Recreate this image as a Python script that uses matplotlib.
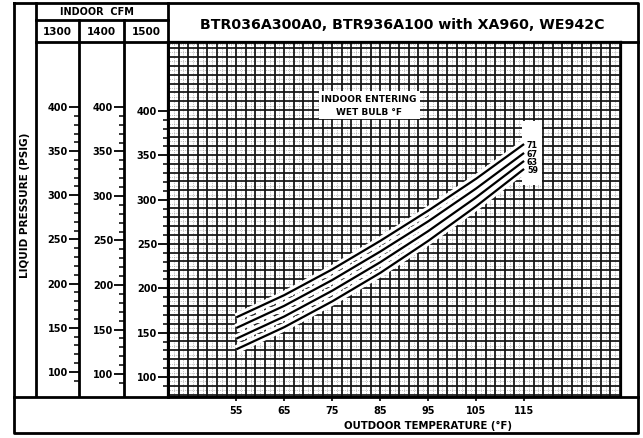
#!/usr/bin/env python3
# Liquid pressure charging chart, outdoor temperature vs. liquid pressure

import matplotlib
matplotlib.use("Agg")
from matplotlib import pyplot as plt
from matplotlib import patheffects as pe
from matplotlib.patches import Rectangle
import numpy as np

################
#   DATA       #
################
outdoor_temp = [55, 65, 75, 85, 95, 105, 115]

# liquid pressure (psig) for each indoor entering wet bulb
psi_wb71 = [167, 192, 221, 253, 287, 323, 362]
psi_wb67 = [155, 180, 209, 241, 275, 312, 352]
psi_wb63 = [143, 168, 197, 229, 264, 302, 343]
psi_wb59 = [131, 156, 185, 217, 253, 292, 334]
wet_bulb_labels = ["71", "67", "63", "59"]

cfm_labels = ["1300", "1400", "1500"]
pressure_ticks = [100, 150, 200, 250, 300, 350, 400]
temp_ticks = [55, 65, 75, 85, 95, 105, 115]

TITLE = "BTR036A300A0, BTR936A100 with XA960, WE942C"

W, H = 643, 439
fig = plt.figure(figsize=(W / 100, H / 100), dpi=100)
plt.rcParams["font.family"] = "DejaVu Sans"


def px_axes(x0, y0, x1, y1, **kw):
    return fig.add_axes([x0 / W, 1 - y1 / H, (x1 - x0) / W, (y1 - y0) / H], **kw)


# main grid
ax = px_axes(168, 43, 621, 398)
ax.set_xlim(40.8, 135.2)
ax.set_ylim(77.5, 476.8)
ax.vlines(np.arange(42, 136, 2), 0, 1, transform=ax.get_xaxis_transform(),
          colors="#888888", lw=0.5, linestyles=":", zorder=1)
ax.hlines(np.arange(85, 476, 10), 0, 1, transform=ax.get_yaxis_transform(),
          colors="#888888", lw=0.5, linestyles=":", zorder=1)
ax.vlines(np.arange(41, 136, 2), 0, 1, transform=ax.get_xaxis_transform(),
          colors="#111111", lw=1.25, zorder=2)
ax.hlines(np.arange(80, 476, 10), 0, 1, transform=ax.get_yaxis_transform(),
          colors="#111111", lw=1.25, zorder=2)

ax.set_xticks(temp_ticks)
ax.set_xticklabels([str(t) for t in temp_ticks], fontsize=7, fontweight="bold")
ax.tick_params(axis="x", direction="out", length=3, width=1.2, pad=3)
ax.set_yticks([])
for s in ax.spines.values():
    s.set_linewidth(1.6)

# white patch behind the curve labels
ax.add_patch(Rectangle((114.6, 316), 4.2, 72, fc="white", ec="none", zorder=3))

halo = [pe.Stroke(linewidth=6, foreground="white"), pe.Normal()]
for vals, lab in zip([psi_wb71, psi_wb67, psi_wb63, psi_wb59], wet_bulb_labels):
    ax.plot(outdoor_temp, vals, color="black", lw=1.6, zorder=4,
            solid_capstyle="butt", path_effects=halo)
    ax.text(outdoor_temp[-1] + 0.6, vals[-1] - 1, lab, fontsize=5.8,
            fontweight="bold", ha="left", va="center", zorder=5)

ax.text(82.7, 406, "INDOOR ENTERING\nWET BULB °F", fontsize=6.5,
        fontweight="bold", ha="center", va="center", linespacing=1.6, zorder=5,
        bbox=dict(fc="white", ec="none", pad=2))

# indoor CFM pressure scales
col_edges = [(36, 79), (79, 124), (124, 168)]
col_limits = [(72.8, 473.6), (75.3, 473.0), (78.6, 477.8)]
for (x0, x1), lim, cfm in zip(col_edges, col_limits, cfm_labels):
    cax = px_axes(x0, 43, x1, 397, facecolor="none")
    cax.set_xlim(0, 1)
    cax.set_ylim(*lim)
    cax.set_xticks([])
    for s in cax.spines.values():
        s.set_visible(False)
    cax.set_yticks(pressure_ticks)
    cax.set_yticks(np.arange(90, 401, 10), minor=True)
    cax.tick_params(axis="y", which="both", left=False, right=True,
                    labelleft=False, labelright=False, direction="in")
    cax.tick_params(axis="y", which="major", length=7, width=1.3)
    cax.tick_params(axis="y", which="minor", length=3.5, width=1.1)
    off = 1 - 11 / (x1 - x0)
    for p in pressure_ticks:
        cax.text(off, p, str(p), transform=cax.get_yaxis_transform(),
                 fontsize=7, fontweight="bold", ha="right", va="center")

# frame, headers and axis titles
frame = fig.add_axes([0, 0, 1, 1], facecolor="none", zorder=10)
frame.set_xlim(0, W)
frame.set_ylim(H, 0)
frame.axis("off")
lw = 2.0
frame.plot([14, 638, 638, 14, 14], [4, 4, 434, 434, 4], color="black", lw=lw)
frame.plot([36, 36], [4, 397], color="black", lw=lw)
frame.plot([79, 79], [21, 397], color="black", lw=lw)
frame.plot([124, 124], [21, 397], color="black", lw=lw)
frame.plot([168, 168], [4, 398], color="black", lw=lw)
frame.plot([36, 168], [21, 21], color="black", lw=lw)
frame.plot([36, 638], [43, 43], color="black", lw=lw)
frame.plot([14, 638], [398, 398], color="black", lw=lw)

frame.text(97, 12, "INDOOR  CFM", fontsize=7, fontweight="bold",
           ha="center", va="center")
for (x0, x1), cfm in zip(col_edges, cfm_labels):
    frame.text((x0 + x1) / 2, 32, cfm, fontsize=7.5, fontweight="bold",
               ha="center", va="center")
frame.text(25, 205, "LIQUID PRESSURE (PSIG)", fontsize=7.5, fontweight="bold",
           rotation=90, ha="center", va="center")
frame.text(402, 25, TITLE, fontsize=10.2, fontweight="bold",
           ha="center", va="center")
frame.text(428, 426, "OUTDOOR TEMPERATURE (°F)", fontsize=7.3, fontweight="bold",
           ha="center", va="center")

fig.savefig("out.png", dpi=100, facecolor="white")
